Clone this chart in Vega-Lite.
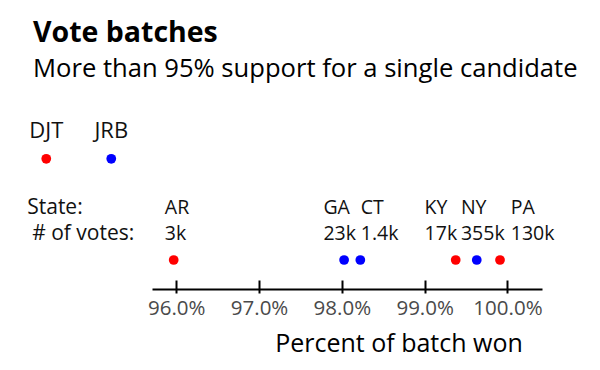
{
  "$schema": "https://vega.github.io/schema/vega-lite/v6.json",
  "width": 390,
  "height": 129,
  "autosize": {"type": "none"},
  "padding": {"left": 152, "top": 131, "right": 58, "bottom": 110},
  "title": {
    "text": "Vote batches",
    "subtitle": "More than 95% support for a single candidate",
    "anchor": "start",
    "frame": "group",
    "dx": -119,
    "font": "Open Sans",
    "fontSize": 28.5,
    "fontWeight": "bold",
    "color": "#000000",
    "subtitleFont": "Open Sans",
    "subtitleFontSize": 25.6,
    "subtitleColor": "#000000",
    "subtitlePadding": 10,
    "offset": 37
  },
  "config": {"view": {"stroke": null}, "font": "Open Sans"},
  "datasets": {
    "states": [
      {"state": "AR", "votes": "3k", "pct": 95.969, "label_x": 95.862, "cand": "DJT"},
      {"state": "GA", "votes": "23k", "pct": 98.027, "label_x": 97.777, "cand": "JRB"},
      {"state": "CT", "votes": "1.4k", "pct": 98.223, "label_x": 98.229, "cand": "JRB"},
      {"state": "KY", "votes": "17k", "pct": 99.375, "label_x": 98.999, "cand": "DJT"},
      {"state": "NY", "votes": "355k", "pct": 99.629, "label_x": 99.438, "cand": "JRB"},
      {"state": "PA", "votes": "130k", "pct": 99.91, "label_x": 100.04, "cand": "DJT"}
    ],
    "legend": [
      {"cand": "DJT", "lx": 94.43},
      {"cand": "JRB", "lx": 95.215}
    ],
    "headers": [
      {"label": "State:", "row": "state", "hx": 94.2},
      {"label": "# of votes:", "row": "votes", "hx": 94.26}
    ]
  },
  "resolve": {"axis": {"x": "independent"}},
  "layer": [
    {
      "data": {"name": "states"},
      "mark": {"type": "circle", "size": 95, "opacity": 1},
      "encoding": {
        "x": {
          "field": "pct", "type": "quantitative",
          "scale": {"domain": [95.707, 100.417], "nice": false, "zero": false},
          "axis": {"orient": "bottom", "domain": true, "domainColor": "#000000", "domainWidth": 2, "ticks": false, "labels": false, "title": null, "grid": false, "offset": 29}
        },
        "y": {"datum": "dot", "type": "nominal", "scale": {"type": "point", "domain": ["cand", "cdot", "gap", "state", "votes", "dot"], "padding": 0}, "axis": null},
        "color": {"field": "cand", "type": "nominal", "scale": {"domain": ["DJT", "JRB"], "range": ["#ff0000", "#0000ff"]}, "legend": null}
      }
    },
    {
      "data": {"name": "states"},
      "mark": {"type": "text", "align": "left", "baseline": "middle", "fontSize": 19.5, "color": "#111111"},
      "encoding": {
        "x": {"field": "label_x", "type": "quantitative", "axis": null},
        "y": {"datum": "state", "type": "nominal"},
        "text": {"field": "state"}
      }
    },
    {
      "data": {"name": "states"},
      "mark": {"type": "text", "align": "left", "baseline": "middle", "fontSize": 19.5, "color": "#111111"},
      "encoding": {
        "x": {
          "field": "label_x", "type": "quantitative",
          "axis": {
            "orient": "bottom",
            "domain": false, "ticks": true, "tickSize": 13, "tickWidth": 2, "tickColor": "#000000",
            "values": [96, 97, 98, 99, 100],
            "labelExpr": "format(datum.value, '.1f') + '%'",
            "labelFontSize": 20.5, "labelColor": "#4a4a4a", "labelPadding": 5.5, "labelOverlap": false, "labelFlush": false,
            "offset": 20, "grid": false,
            "title": "Percent of batch won", "titleFontSize": 25, "titleFontWeight": "normal", "titleColor": "#000000",
            "titleX": 246.5, "titleY": 71.7, "titleAlign": "center", "titleBaseline": "alphabetic"
          }
        },
        "y": {"datum": "votes", "type": "nominal"},
        "text": {"field": "votes"}
      }
    },
    {
      "data": {"name": "legend"},
      "mark": {"type": "text", "align": "center", "baseline": "middle", "fontSize": 22, "color": "#111111"},
      "encoding": {
        "x": {"field": "lx", "type": "quantitative", "axis": null},
        "y": {"datum": "cand", "type": "nominal"},
        "text": {"field": "cand"}
      }
    },
    {
      "data": {"name": "legend"},
      "mark": {"type": "circle", "size": 95, "opacity": 1, "yOffset": 2},
      "encoding": {
        "x": {"field": "lx", "type": "quantitative", "axis": null},
        "y": {"datum": "cdot", "type": "nominal"},
        "color": {"field": "cand", "type": "nominal", "legend": null}
      }
    },
    {
      "data": {"name": "headers"},
      "mark": {"type": "text", "align": "left", "baseline": "middle", "fontSize": 21, "color": "#111111"},
      "encoding": {
        "x": {"field": "hx", "type": "quantitative", "axis": null},
        "y": {"field": "row", "type": "nominal"},
        "text": {"field": "label"}
      }
    }
  ]
}
